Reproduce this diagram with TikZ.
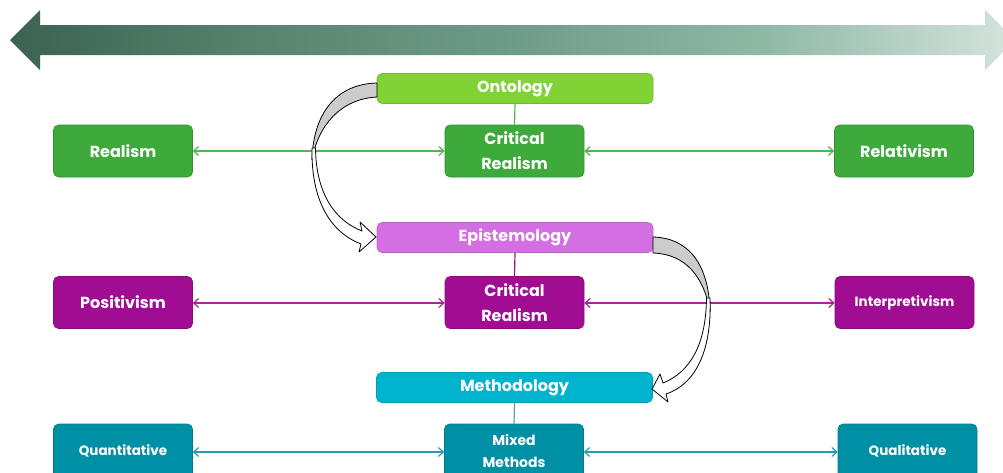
\documentclass[tikz,border=0pt]{standalone}
\usepackage{fontspec}
\setmainfont{Poppins}
\usetikzlibrary{arrows.meta}

\definecolor{ontoC}{HTML}{80D235}
\definecolor{greenC}{HTML}{3DAA3B}
\definecolor{epiC}{HTML}{D46FE3}
\definecolor{purpC}{HTML}{A00D92}
\definecolor{methC}{HTML}{00B3CF}
\definecolor{tealC}{HTML}{0090A5}
\definecolor{greenL}{HTML}{4DB84B}
\definecolor{purpL}{HTML}{A5259A}
\definecolor{tealL}{HTML}{2B9BB0}
\definecolor{stemT}{HTML}{5D9CA8}
\definecolor{shadeG}{HTML}{CCCCCC}

% left-to-right fade of the top band (path box spans 25bp..75bp)
\pgfdeclarehorizontalshading{bandfade}{100bp}{
  rgb(0bp)=(0.235,0.384,0.318);
  rgb(25bp)=(0.235,0.384,0.318);
  rgb(37.5bp)=(0.345,0.518,0.435);
  rgb(50bp)=(0.435,0.612,0.533);
  rgb(62.5bp)=(0.561,0.722,0.647);
  rgb(75bp)=(0.839,0.894,0.871);
  rgb(100bp)=(0.839,0.894,0.871)}

\tikzset{
  pbox/.style={rectangle, rounded corners=5pt, inner sep=0pt, text=white,
    align=center, line width=0.6pt, font=\bfseries\fontsize{16}{25}\selectfont},
  smalltxt/.style={font=\bfseries\fontsize{13.5}{20}\selectfont},
  mixtxt/.style={font=\bfseries\fontsize{14}{22}\selectfont},
  headbox/.style={pbox, minimum width=276pt, minimum height=30pt},
  rowbox/.style={pbox, minimum width=139pt, minimum height=52pt},
  link/.style={line width=1.2pt, {Straight Barb[length=5pt,width=9pt]}-{Straight Barb[length=5pt,width=9pt]}},
  stem/.style={line width=1.2pt},
  curlarrow/.style={draw=black, line width=0.8pt, line join=round}
}

\begin{document}
\begin{tikzpicture}[x=1pt,y=-1pt]
\useasboundingbox (0,0) rectangle (1003,472);
\clip (0,0) rectangle (1003,472);

% graded double arrow across the top
\shade[shading=bandfade]
  (10,40) -- (40,10) -- (40,25) -- (985,25) -- (985,10) -- (1015,40)
  -- (985,70) -- (985,55) -- (40,55) -- (40,70) -- cycle;

% ontology level
\node[headbox, fill=ontoC, draw=ontoC!88!black] (onto) at (515,88.5) {Ontology};
\node[rowbox, fill=greenC, draw=greenC!85!black] (realism) at (123,151) {Realism};
\node[rowbox, fill=greenC, draw=greenC!85!black] (crA) at (514.5,151) {Critical\\Realism};
\node[rowbox, fill=greenC, draw=greenC!85!black] (relat) at (904,151) {Relativism};

% epistemology level
\node[headbox, fill=epiC, draw=epiC!88!black] (epi) at (515,237.5) {Epistemology};
\node[rowbox, fill=purpC, draw=purpC!85!black] (posit) at (123,302.5) {Positivism};
\node[rowbox, fill=purpC, draw=purpC!85!black] (crB) at (514.5,302.5) {Critical\\Realism};
\node[rowbox, fill=purpC, draw=purpC!85!black, smalltxt] (interp) at (904.5,302.5) {Interpretivism};

% methodology level
\node[headbox, fill=methC, draw=methC!88!black] (meth) at (514.5,387.5) {Methodology};
\node[rowbox, fill=tealC, draw=tealC!85!black, smalltxt, minimum height=54pt] (quant) at (123,451) {Quantitative};
\node[rowbox, fill=tealC, draw=tealC!85!black, mixtxt, minimum height=54pt] (mixed) at (514,451) {Mixed\\Methods};
\node[rowbox, fill=tealC, draw=tealC!85!black, smalltxt, minimum height=54pt] (qual) at (907.5,451) {Qualitative};

% stems from each heading to its middle box
\draw[stem, greenL] (onto.south) -- (crA.north);
\draw[stem, purpC] (epi.south) -- (crB.north);
\draw[stem, stemT] (meth.south) -- (mixed.north);

% two-way links along each row
\draw[link, greenL] (realism.east) -- (crA.west);
\draw[link, greenL] (crA.east) -- (relat.west);
\draw[link, purpL] ([yshift=-0.5pt]posit.east) -- ([yshift=-0.5pt]crB.west);
\draw[link, purpL] ([yshift=-0.5pt]crB.east) -- ([yshift=-0.5pt]interp.west);
\draw[link, tealL] ([yshift=-1pt]quant.east) -- ([yshift=-1pt]mixed.west);
\draw[link, tealL] ([yshift=-1pt]mixed.east) -- ([yshift=-1pt]qual.west);

% curved block arrow: ontology -> epistemology
\coordinate (curlAtop) at (377,83);
\coordinate (curlAtip) at (376,237);
\filldraw[curlarrow, fill=shadeG] (curlAtop) .. controls (335,84) and (313,115) .. (312,160)
  .. controls (318,126) and (340,99) .. (377,97) -- cycle;
\filldraw[curlarrow, fill=white] (312,148) .. controls (311,200) and (330,232) .. (361,244)
  -- (359,252) -- (curlAtip) -- (360,222) -- (362,231)
  .. controls (336,221) and (316,195) .. (315.5,148) -- cycle;

% curved block arrow: epistemology -> methodology
\coordinate (curlBtop) at (653,237);
\coordinate (curlBtip) at (652,389);
\filldraw[curlarrow, fill=shadeG] (curlBtop) .. controls (690,238) and (709,266) .. (710,312)
  .. controls (704,276) and (685,254) .. (653,253) -- cycle;
\filldraw[curlarrow, fill=white] (710,298) .. controls (712,350) and (696,384) .. (666,394)
  -- (668,402) -- (curlBtip) -- (660,374) -- (663,383)
  .. controls (690,372) and (706,345) .. (706.5,298) -- cycle;
\end{tikzpicture}
\end{document}
